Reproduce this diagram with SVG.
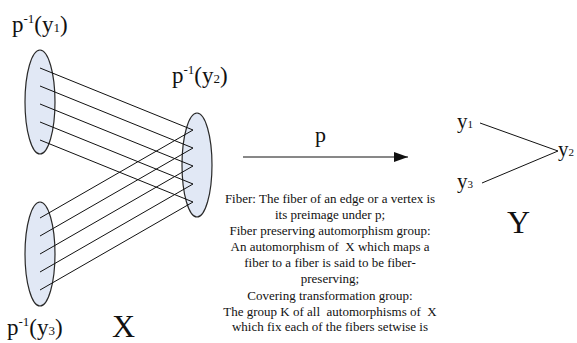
<svg xmlns="http://www.w3.org/2000/svg" width="577" height="343" viewBox="0 0 577 343" font-family="'Liberation Serif', 'Times New Roman', serif">
<defs>
<style>
.fib{fill:#e1e8f5;stroke:#2a2a2a;stroke-width:1.2}
.ln{stroke:#111;stroke-width:1;fill:none}
text{fill:#111}
.big{font-size:32px}
.desc{font-size:13px;text-anchor:middle;white-space:pre}
</style>
<marker id="ah" markerWidth="14" markerHeight="10" refX="14" refY="5" orient="auto" markerUnits="userSpaceOnUse">
<path d="M0,0 L14,5 L0,10 Z" fill="#111"/>
</marker>
</defs>
<rect width="577" height="343" fill="#fff"/>
<g id="fiber-y1">
<ellipse class="fib" cx="40" cy="102" rx="15" ry="52"/>
<text x="12" y="32" font-size="23">p<tspan font-size="13" dy="-9">-1</tspan><tspan dy="9">(y</tspan><tspan font-size="13">1</tspan>)</text>
</g>
<g id="fiber-y2">
<ellipse class="fib" cx="197" cy="165" rx="15" ry="52"/>
<text x="172" y="83" font-size="23">p<tspan font-size="13" dy="-9">-1</tspan><tspan dy="9">(y</tspan><tspan font-size="13">2</tspan>)</text>
</g>
<g id="fiber-y3">
<ellipse class="fib" cx="40" cy="254" rx="15" ry="52"/>
<text x="7" y="335" font-size="23">p<tspan font-size="13" dy="-9">-1</tspan><tspan dy="9">(y</tspan><tspan font-size="13">3</tspan>)</text>
</g>
<g id="label-X"><text class="big" x="112" y="337">X</text></g>
<g id="node-y1"><text x="457" y="128" font-size="21">y<tspan font-size="11">1</tspan></text></g>
<g id="node-y2"><text x="558" y="156" font-size="21">y<tspan font-size="11">2</tspan></text></g>
<g id="node-y3"><text x="457" y="188" font-size="21">y<tspan font-size="11">3</tspan></text></g>
<g id="label-Y"><text class="big" x="507" y="233">Y</text></g>
<g id="connectors">
<path class="ln" d="M40,68 L193,130 M40,86 L193,148 M40,104 L193,166 M40,122 L193,184 M40,140 L193,202"/>
<path class="ln" d="M40,218 L193,130 M40,236 L193,148 M40,254 L193,166 M40,272 L193,184 M40,290 L193,202"/>
<line class="ln" x1="243" y1="157" x2="408" y2="157" marker-end="url(#ah)"/>
<text x="315" y="142" font-size="22">p</text>
<path class="ln" d="M480,123 L558,151 M482,183 L558,151"/>
</g>
<g id="description">
<text class="desc" x="330" y="203">Fiber: The fiber of an edge or a vertex is</text>
<text class="desc" x="330" y="219">its preimage under p;</text>
<text class="desc" x="330" y="235">Fiber preserving automorphism group:</text>
<text class="desc" x="330" y="251">An automorphism of  X which maps a</text>
<text class="desc" x="330" y="267">fiber to a fiber is said to be fiber-</text>
<text class="desc" x="330" y="283">preserving;</text>
<text class="desc" x="330" y="300">Covering transformation group:</text>
<text class="desc" x="330" y="316">The group K of all  automorphisms of  X</text>
<text class="desc" x="330" y="331">which fix each of the fibers setwise is</text>
</g>
</svg>
